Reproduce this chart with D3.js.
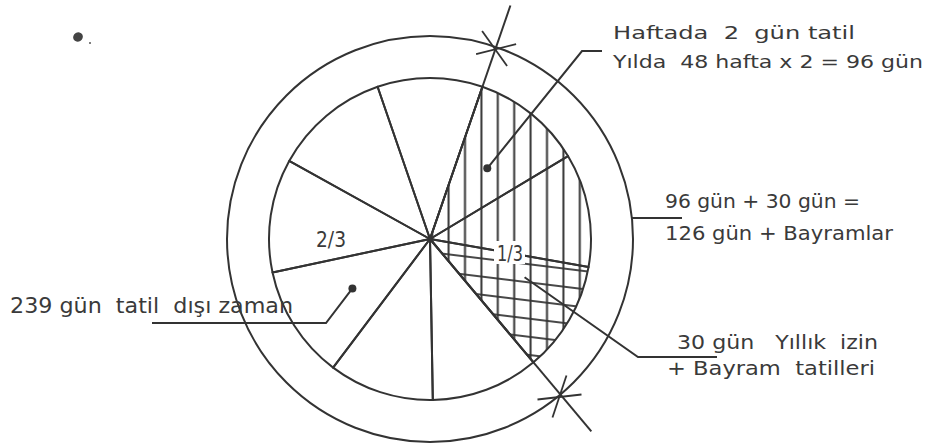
<!DOCTYPE html>
<html>
<head>
<meta charset="utf-8">
<script src="https://d3js.org/d3.v7.min.js"></script>
<title>Tatil ve çalışma günleri</title>
<style>
body { margin: 0; background: #fff; }
svg { display: block; }
text {
  font-family: "Liberation Sans Narrow", "DejaVu Sans Condensed", "DejaVu Sans", sans-serif;
  fill: #3a3a3a;
  white-space: pre;
}
</style>
</head>
<body>
<svg width="926" height="448"></svg>
<script>

// slice angles (degrees), clockwise from the upper 1/3 boundary
let sliceDeg = [40, 41, 40, 39, 38, 41, 41, 42, 38];
let sliceGroup = ["1/3", "1/3", "1/3", "2/3", "2/3", "2/3", "2/3", "2/3", "2/3"];
let sliceHatch = ["v", "v", "vh", "", "", "", "", "", ""];
let groupLabels = ["1/3", "2/3"];
let days = [96, 30, 126, 239]; // weekend days, annual leave, total off, working time

let noteLines = [
  ["Haftada  2  gün tatil", "Yılda  48 hafta x 2 = 96 gün"],
  ["96 gün + 30 gün =", "126 gün + Bayramlar"],
  ["239 gün  tatil  dışı zaman"],
  ["30 gün   Yıllık  izin", "+ Bayram  tatilleri"]
];

let cx = 430, cy = 239;
let rInner = 161, rOuter = 203;
let startDeg = 19; // d3 angle (clockwise from 12 o'clock) of first boundary
let ink = "#333";

let svg = d3.select("svg");
let rad = d => d * Math.PI / 180;

function polar(a, r) {
  return [cx + r * Math.sin(a), cy - r * Math.cos(a)];
}

let pie = d3.pie().sort(null)
  .startAngle(rad(startDeg))
  .endAngle(rad(startDeg) + 2 * Math.PI);
let slices = pie(sliceDeg);
slices.forEach((s, i) => { s.group = sliceGroup[i]; s.hatch = sliceHatch[i]; });

let arc = d3.arc().innerRadius(0).outerRadius(rInner);

// hatch patterns
let defs = svg.append("defs");
let pv = defs.append("pattern")
  .attr("id", "vert")
  .attr("patternUnits", "userSpaceOnUse")
  .attr("width", 16.4).attr("height", 20)
  .attr("patternTransform", "translate(436.8,0)");
pv.append("line")
  .attr("x1", 8.2).attr("x2", 8.2).attr("y1", 0).attr("y2", 20)
  .attr("stroke", ink).attr("stroke-width", 2);

let ph = defs.append("pattern")
  .attr("id", "horiz")
  .attr("patternUnits", "userSpaceOnUse")
  .attr("width", 20).attr("height", 18)
  .attr("patternTransform", "rotate(7) translate(0,4)");
ph.append("line")
  .attr("x1", 0).attr("x2", 20).attr("y1", 9).attr("y2", 9)
  .attr("stroke", ink).attr("stroke-width", 1.8);

let g = svg.append("g").attr("transform", "translate(" + cx + "," + cy + ")");

// outer ring
svg.append("circle")
  .attr("cx", cx).attr("cy", cy).attr("r", rOuter)
  .attr("fill", "none").attr("stroke", ink).attr("stroke-width", 2);

// hatch fills
g.selectAll("path.vfill")
  .data(slices.filter(d => d.hatch.includes("v")))
  .join("path")
  .attr("class", "vfill")
  .attr("d", arc)
  .attr("fill", "url(#vert)");

g.selectAll("path.hfill")
  .data(slices.filter(d => d.hatch.includes("h")))
  .join("path")
  .attr("class", "hfill")
  .attr("d", arc)
  .attr("fill", "url(#horiz)");

// slice outlines (spokes + inner circle)
g.selectAll("path.slice")
  .data(slices)
  .join("path")
  .attr("class", "slice")
  .attr("d", arc)
  .attr("fill", "none")
  .attr("stroke", ink)
  .attr("stroke-width", 2)
  .attr("stroke-linejoin", "round");

// 1/3 boundaries run out past the ring and get a star mark
let third = slices.filter(d => d.group === "1/3");
let bounds = [
  { a: third[0].startAngle, len: 247, arms: [[-14, -16, 11, 19], [-20, 7, 20, -3]] },
  { a: third[third.length - 1].endAngle, len: 251, arms: [[-23, 5, 21, 0], [-8, 23, 6, -19]] }
];
bounds.forEach(b => {
  let p = polar(b.a, b.len);
  svg.append("line")
    .attr("x1", cx).attr("y1", cy).attr("x2", p[0]).attr("y2", p[1])
    .attr("stroke", ink).attr("stroke-width", 2);
  let s = polar(b.a, rOuter);
  b.arms.forEach(m => {
    svg.append("line")
      .attr("x1", s[0] + m[0]).attr("y1", s[1] + m[1])
      .attr("x2", s[0] + m[2]).attr("y2", s[1] + m[3])
      .attr("stroke", ink).attr("stroke-width", 1.8);
  });
});

// group labels inside the pie
let lab13 = svg.append("g");
lab13.append("rect")
  .attr("x", 494).attr("y", 241).attr("width", 31).attr("height", 23)
  .attr("fill", "#fff");
lab13.append("text")
  .attr("x", 497).attr("y", 261)
  .attr("font-size", 22)
  .attr("textLength", 26).attr("lengthAdjust", "spacingAndGlyphs")
  .text(groupLabels[0]);

svg.append("text")
  .attr("x", 316).attr("y", 247)
  .attr("font-size", 22)
  .attr("textLength", 30).attr("lengthAdjust", "spacingAndGlyphs")
  .text(groupLabels[1]);

// leader lines
function leader(pts) {
  svg.append("path")
    .attr("d", d3.line()(pts))
    .attr("fill", "none")
    .attr("stroke", ink)
    .attr("stroke-width", 2);
}
function dot(p) {
  svg.append("circle").attr("cx", p[0]).attr("cy", p[1]).attr("r", 4).attr("fill", ink);
}

let pWeek = polar((slices[0].startAngle + slices[0].endAngle) / 2, 91);
dot(pWeek);
leader([pWeek, [582, 51], [602, 51]]);

let pWork = polar((slices[5].startAngle + slices[5].endAngle) / 2, 92);
dot(pWork);
leader([pWork, [326, 323], [152, 323]]);

let yR = 218;
leader([[cx + Math.sqrt(rOuter * rOuter - (yR - cy) * (yR - cy)), yR], [682, yR]]);

let pLeave = polar(slices[2].startAngle + rad(12), 102);
leader([pLeave, [638, 357], [717, 357]]);

// notes
function note(lines, x, ys, size, lens) {
  lines.forEach((t, i) => {
    svg.append("text")
      .attr("x", x[i]).attr("y", ys[i])
      .attr("font-size", size)
      .attr("textLength", lens[i]).attr("lengthAdjust", "spacingAndGlyphs")
      .text(t);
  });
}
note(noteLines[0], [613, 613], [39, 68], 18, [242, 310]);
note(noteLines[1], [665, 665], [208, 240], 19, [195, 228]);
note(noteLines[2], [10], [313], 21, [283]);
note(noteLines[3], [677, 667], [349, 375], 19, [201, 208]);

// stray ink mark top left
svg.append("ellipse").attr("cx", 78).attr("cy", 37).attr("rx", 5).attr("ry", 4.5)
  .attr("transform", "rotate(-30,78,37)").attr("fill", "#444");
svg.append("circle").attr("cx", 90).attr("cy", 43).attr("r", 1).attr("fill", "#555");

</script>
</body>
</html>
